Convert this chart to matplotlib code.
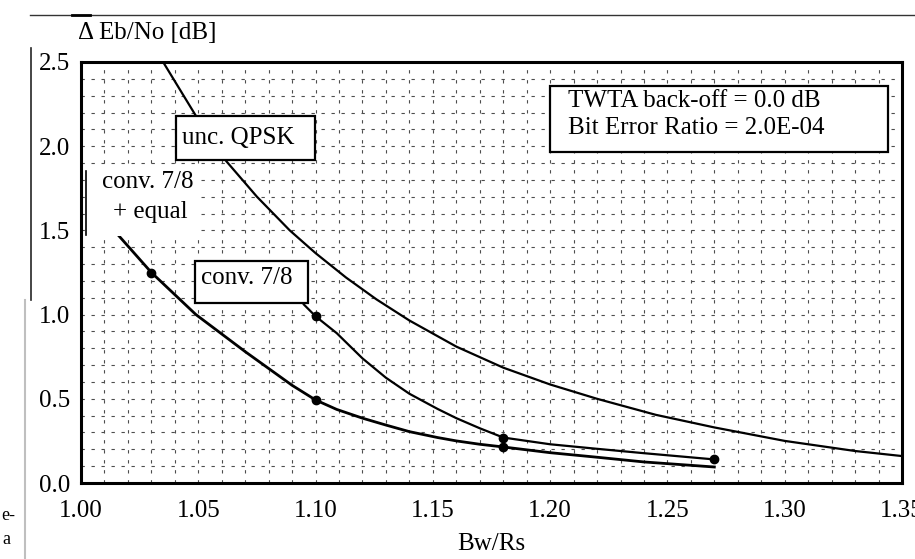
import numpy as np
import matplotlib
matplotlib.use("Agg")
import matplotlib.pyplot as plt
from matplotlib.patches import Rectangle
from matplotlib.lines import Line2D

plt.rcParams['font.family'] = ['Liberation Serif', 'DejaVu Serif']

# unc. QPSK (no markers)
qpsk_x = [1.035, 1.049, 1.062, 1.075, 1.089, 1.100, 1.113, 1.126, 1.140, 1.160,
          1.180, 1.200, 1.220, 1.245, 1.270, 1.300, 1.330, 1.350]
qpsk_y = [2.50, 2.18, 1.91, 1.70, 1.50, 1.365, 1.22, 1.09, 0.965, 0.81,
          0.685, 0.585, 0.50, 0.405, 0.33, 0.25, 0.19, 0.16]

# conv. 7/8
conv_x = [1.095, 1.100, 1.109, 1.120, 1.130, 1.140, 1.152, 1.160, 1.170, 1.180,
          1.200, 1.220, 1.240, 1.270]
conv_y = [1.06, 0.99, 0.89, 0.74, 0.625, 0.53, 0.44, 0.385, 0.325, 0.27,
          0.23, 0.203, 0.177, 0.14]
conv_mx = [1.10, 1.18, 1.27]
conv_my = [0.99, 0.27, 0.14]

# conv. 7/8 + equal
eq_x = [1.016, 1.030, 1.049, 1.070, 1.080, 1.090, 1.100, 1.109, 1.120, 1.130,
        1.140, 1.152, 1.160, 1.170, 1.180, 1.200, 1.220, 1.240, 1.270]
eq_y = [1.47, 1.25, 1.00, 0.78, 0.68, 0.58, 0.493, 0.437, 0.385, 0.344,
        0.305, 0.27, 0.25, 0.23, 0.214, 0.18, 0.153, 0.125, 0.095]
eq_mx = [1.03, 1.10, 1.18]
eq_my = [1.25, 0.493, 0.214]

x_ticks = [1.00, 1.05, 1.10, 1.15, 1.20, 1.25, 1.30, 1.35]
y_ticks = [0.0, 0.5, 1.0, 1.5, 2.0, 2.5]

W, H = 915, 559
fig = plt.figure(figsize=(W / 100, H / 100), dpi=100)
ax = fig.add_axes([81 / W, 1 - 483 / H, 821 / W, 421 / H])

ax.set_xlim(1.0, 1.35)
ax.set_ylim(0.0, 2.5)
ax.set_xticks(x_ticks)
ax.set_xticklabels(['%.2f' % v for v in x_ticks])
ax.set_yticks(y_ticks)
ax.set_yticklabels(['%.1f' % v for v in y_ticks])
ax.set_xticks(np.arange(1.0, 1.351, 0.01), minor=True)
ax.set_yticks(np.arange(0.0, 2.51, 0.1), minor=True)
ax.tick_params(which='both', length=0, labelsize=18)
ax.tick_params(axis='x', pad=12)
ax.tick_params(axis='y', pad=8)
ax.grid(which='both', color='0.3', lw=0.8, linestyle=(0, (3, 6)))
ax.set_axisbelow(True)
for s in ax.spines.values():
    s.set_linewidth(2.2)

lw = 1.6
ax.plot(qpsk_x, qpsk_y, color='black', lw=lw, zorder=3)
ax.plot(conv_x, conv_y, color='black', lw=lw, zorder=3)
ax.plot(conv_mx, conv_my, 'o', color='black', ms=6, zorder=4)
ax.plot(eq_x, eq_y, color='black', lw=lw + 0.4, zorder=3)
ax.plot(eq_mx, eq_my, 'o', color='black', ms=6, zorder=4)

ax.set_xlabel('Bw/Rs', fontsize=18, labelpad=8)

# label boxes (axes coordinates)
tr = ax.transAxes
ax.add_patch(Rectangle((0.571, 0.786), 0.412, 0.157, transform=tr, fc='white',
                       ec='black', lw=1.6, zorder=5))
ax.text(0.593, 0.907, 'TWTA back-off = 0.0 dB', transform=tr, fontsize=18,
        va='center', ha='left', zorder=6)
ax.text(0.593, 0.843, 'Bit Error Ratio = 2.0E-04', transform=tr, fontsize=18,
        va='center', ha='left', zorder=6)

ax.add_patch(Rectangle((0.1157, 0.767), 0.169, 0.105, transform=tr, fc='white',
                       ec='black', lw=1.6, zorder=5))
ax.text(0.191, 0.819, 'unc. QPSK', transform=tr, fontsize=18,
        va='center', ha='center', zorder=6)

ax.add_patch(Rectangle((0.1389, 0.4276), 0.1376, 0.0994, transform=tr, fc='white',
                       ec='black', lw=1.6, zorder=5))
ax.text(0.2016, 0.487, 'conv. 7/8', transform=tr, fontsize=18,
        va='center', ha='center', zorder=6)

ax.add_patch(Rectangle((0.0061, 0.587), 0.139, 0.161, transform=tr, fc='white',
                       ec='none', zorder=5))
ax.add_line(Line2D([0.0061, 0.0061], [0.588, 0.742], transform=tr, color='black',
                   lw=1.2, zorder=6))
ax.text(0.0816, 0.715, 'conv. 7/8', transform=tr, fontsize=18,
        va='center', ha='center', zorder=6)
ax.text(0.084, 0.644, '+ equal', transform=tr, fontsize=18,
        va='center', ha='center', zorder=6)

# y-axis title and scan frame
fig.text(78 / W, 1 - 33 / H, 'Δ Eb/No [dB]', fontsize=18, va='center', ha='left')
fig.add_artist(Line2D([30 / W, 1.0], [1 - 15 / H, 1 - 15 / H], color='0.2', lw=1.0))
fig.add_artist(Line2D([72 / W, 90 / W], [1 - 15 / H, 1 - 15 / H], color='black', lw=2.0))
fig.add_artist(Line2D([31 / W, 31 / W], [1 - 48 / H, 1 - 300 / H], color='0.15', lw=1.2))
fig.add_artist(Line2D([25 / W, 25 / W], [1 - 300 / H, 0.0], color='0.75', lw=1.5))
fig.text(1 / W, 1 - 516 / H, 'e-', fontsize=13, va='center', ha='left')
fig.text(2 / W, 1 - 540 / H, 'a', fontsize=13, va='center', ha='left')

fig.savefig('out.png', dpi=100)
